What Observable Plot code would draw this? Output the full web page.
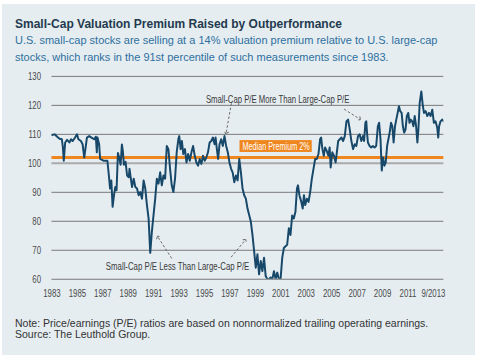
<!DOCTYPE html>
<html>
<head>
<meta charset="utf-8">
<script src="https://cdn.jsdelivr.net/npm/d3@7"></script>
<script src="https://cdn.jsdelivr.net/npm/@observablehq/plot@0.6"></script>
<style>
  html, body { margin: 0; padding: 0; background: #ffffff; }
  #panel { position: absolute; left: 2px; top: 4px; width: 473px; height: 351px; background: #e5edf1; }
  .title { position: absolute; left: 13px; top: 13px; font-family: "Liberation Sans", Arial, sans-serif; font-weight: bold; font-size: 13px; line-height: 13px; color: #233a4e; white-space: nowrap; }
  .title span { display: inline-block; transform-origin: 0 50%; }
  .subtitle { position: absolute; left: 13px; top: 28px; font-family: "Liberation Sans", Arial, sans-serif; font-size: 11px; line-height: 17px; color: #2e6f9e; white-space: nowrap; }
  .note { position: absolute; left: 13px; top: 314px; font-family: "Liberation Sans", Arial, sans-serif; font-size: 10.5px; line-height: 10.5px; color: #333333; white-space: nowrap; }
  #chart { position: absolute; left: -2px; top: 62px; }
</style>
</head>
<body>
<div id="panel">
  <div class="title"><span>Small-Cap Valuation Premium Raised by Outperformance</span></div>
  <div class="subtitle">U.S. small-cap stocks are selling at a 14% valuation premium relative to U.S. large-cap<br>stocks, which ranks in the 91st percentile of such measurements since 1983.</div>
  <div id="chart"></div>
  <div class="note">Note: Price/earnings (P/E) ratios are based on nonnormalized trailing operating earnings.<br>Source: The Leuthold Group.</div>
</div>
<script>
// Decimal years and relative P/E (small-cap / large-cap, x100)
const years = [
  1983.00,1983.21,1983.41,1983.60,1983.78,1983.86,1983.93,1984.04,1984.19,1984.37,1984.50,1984.63,1984.82,1984.97,
  1985.08,1985.28,1985.41,1985.54,1985.75,1985.93,1986.11,1986.32,1986.45,1986.53,1986.58,1986.71,1986.79,
  1987.05,1987.36,1987.49,1987.57,1987.67,1987.77,1987.88,1987.98,1988.08,1988.19,1988.29,1988.40,1988.50,1988.58,
  1988.66,1988.79,1988.91,1989.04,1989.10,1989.17,1989.30,1989.43,1989.56,1989.69,1989.82,1989.95,
  1990.08,1990.21,1990.34,1990.47,1990.60,1990.73,1990.86,1990.99,1991.12,1991.25,1991.38,1991.51,1991.64,1991.77,1991.90,
  1992.03,1992.16,1992.29,1992.42,1992.55,1992.68,1992.81,1992.94,1993.01,1993.12,1993.22,1993.33,1993.46,1993.58,1993.71,1993.84,1993.97,
  1994.10,1994.23,1994.36,1994.49,1994.62,1994.75,1994.88,1995.01,1995.14,1995.27,1995.40,1995.53,1995.66,1995.79,1995.87,1995.97,
  1996.07,1996.18,1996.31,1996.44,1996.57,1996.70,1996.83,1996.96,1997.09,1997.21,1997.34,1997.47,1997.60,1997.73,1997.86,1997.99,
  1998.12,1998.25,1998.38,1998.51,1998.64,1998.77,1998.90,1999.03,1999.16,1999.29,1999.42,1999.55,1999.68,1999.81,1999.94,
  2000.07,2000.20,2000.33,2000.46,2000.59,2000.72,2000.85,2000.98,2001.11,2001.24,2001.37,2001.50,2001.63,2001.76,2001.89,
  2002.02,2002.15,2002.27,2002.35,2002.46,2002.61,2002.72,2002.82,2002.92,2003.05,2003.18,2003.31,2003.44,2003.57,2003.70,2003.83,2003.96,
  2004.09,2004.17,2004.27,2004.38,2004.48,2004.61,2004.74,2004.84,2004.92,2005.05,2005.18,2005.31,2005.39,2005.51,2005.64,2005.77,2005.90,
  2006.03,2006.16,2006.29,2006.42,2006.55,2006.68,2006.81,2006.94,2007.07,2007.20,2007.33,2007.46,2007.55,2007.65,2007.72,2007.78,2007.85,2007.98,
  2008.11,2008.24,2008.37,2008.50,2008.63,2008.73,2008.84,2008.94,2009.04,2009.15,2009.25,2009.36,2009.46,2009.56,2009.67,2009.77,2009.87,2009.98,
  2010.08,2010.19,2010.29,2010.39,2010.50,2010.60,2010.70,2010.81,2010.91,2011.02,2011.12,2011.22,2011.33,2011.43,2011.53,2011.64,2011.74,2011.82,2011.92,
  2012.05,2012.16,2012.26,2012.39,2012.52,2012.65,2012.78,2012.91,2013.04,2013.17,2013.30,2013.38,2013.45,2013.56,2013.69,2013.82
];
const values = [
  109.8,110.0,109.2,108.5,108.3,105.5,100.9,107.2,108.1,107.2,108.3,107.7,108.9,110.0,
  108.3,107.7,106.6,102.0,108.9,109.4,108.9,108.3,109.2,103.8,108.9,106.6,101.5,
  100.9,100.9,95.2,91.3,94.1,85.0,89.0,91.8,90.7,103.6,102.0,99.5,106.5,104.0,
  99.5,100.5,95.8,95.2,98.1,95.8,91.8,94.7,91.8,91.3,89.0,90.1,
  87.8,94.1,91.3,85.6,81.0,69.1,76.5,82.2,87.8,94.7,93.0,96.9,92.4,95.8,94.7,
  106.0,104.9,98.1,92.4,90.1,94.7,103.8,108.3,109.4,104.9,107.7,103.2,104.9,100.3,103.2,100.9,103.8,
  106.0,102.6,100.3,99.2,101.5,99.8,102.6,100.9,102.0,103.8,107.2,107.7,108.9,106.6,108.9,104.9,
  101.5,106.6,108.3,106.0,109.4,106.0,103.8,100.3,98.1,96.9,93.5,95.8,94.1,101.5,96.9,91.3,
  89.0,87.8,84.4,82.2,79.9,75.3,69.7,64.0,68.6,61.7,66.3,62.8,67.4,61.1,60.0,
  60.0,60.6,60.0,62.8,60.0,62.3,60.0,60.0,67.4,70.8,71.4,71.9,77.6,75.3,82.0,
  81.0,83.3,91.3,92.4,89.0,86.7,84.4,89.0,85.6,87.8,86.7,90.1,94.7,98.1,101.5,101.5,103.2,
  108.3,108.9,104.9,102.6,105.5,104.3,102.6,105.5,98.6,103.8,102.6,100.3,103.2,107.7,108.3,108.9,107.7,
  109.4,114.5,115.1,111.7,107.7,104.9,106.6,106.0,109.4,110.0,107.7,109.4,107.7,114.0,114.5,110.6,107.2,106.0,
  105.5,106.0,105.5,106.0,112.8,114.0,108.3,97.5,102.0,99.2,100.3,106.0,108.3,110.6,114.0,112.8,107.2,112.8,
  115.1,117.4,119.7,118.0,117.4,112.8,110.6,111.7,116.3,117.4,114.0,115.1,114.5,112.8,116.3,112.8,107.2,111.7,120.8,
  124.8,120.2,117.4,118.0,116.3,117.4,116.3,118.5,114.0,114.5,112.3,108.9,112.8,114.5,115.1,114.5
];
const yTicks = [60, 70, 80, 90, 100, 110, 120, 130];
const xTicks = [1983, 1985, 1987, 1989, 1991, 1993, 1995, 1997, 1999, 2001, 2003, 2005, 2007, 2009, 2011, 2013];
const xTickLabels = ["1983","1985","1987","1989","1991","1993","1995","1997","1999","2001","2003","2005","2007","2009","2011","9/2013"];
const medianPremium = 102;
const medianLabel = "Median Premium 2%";
const annotationTexts = ["Small-Cap P/E More Than Large-Cap P/E", "Small-Cap P/E Less Than Large-Cap P/E"];
// annotation anchors in data space (year, value)
const annotationX = [2000.75, 1992.88];
const annotationY = [122.1, 64.4];
const arrowX1 = [1997.11, 2005.98, 1992.42, 1997.09];
const arrowY1 = [120.7, 118.7, 67.2, 67.6];
const arrowX2 = [1996.70, 2007.20, 1991.33, 1998.20];
const arrowY2 = [110.5, 115.3, 74.6, 73.5];

const data = years.map((t, i) => ({t, v: values[i]}));
const arrows = arrowX1.map((x, i) => ({x1: x, y1: arrowY1[i], x2: arrowX2[i], y2: arrowY2[i]}));
const notes = annotationTexts.map((text, i) => ({text, x: annotationX[i], y: annotationY[i]}));

const font = '"Liberation Sans", Arial, sans-serif';
const chart = Plot.plot({
  width: 480,
  height: 240,
  marginLeft: 52,
  marginRight: 32,
  marginTop: 10,
  marginBottom: 25,
  style: {background: "transparent", fontFamily: font, fontSize: "11px", color: "#4a4a4a"},
  x: {domain: [1983, 2013.82], label: null},
  y: {domain: [60, 130], label: null},
  marks: [
    Plot.ruleY(yTicks.filter(d => d !== 100), {stroke: "#777", strokeWidth: 1}),
    Plot.ruleY([100], {stroke: "#aaa", strokeWidth: 2}),
    Plot.rect([{}], {x1: 1994.75, x2: 2006.55, y1: 120.4, y2: 124, fill: "#e5edf1"}),
    Plot.ruleY([medianPremium], {stroke: "#f0861e", strokeWidth: 3}),
    Plot.line(data, {x: "t", y: "v", stroke: "#17486a", strokeWidth: 2, clip: true}),
    Plot.link(arrows, {x1: "x1", y1: "y1", x2: "x2", y2: "y2", stroke: "#666", strokeWidth: 1, strokeDasharray: "2.5,2", markerEnd: "arrow"}),
    Plot.text(notes, {x: "x", y: "y", text: "text", fill: "#3a3a3a", fontSize: 11}),
    Plot.rect([{}], {x1: 1997.79, x2: 2003.47, y1: 103.75, y2: 107.85, fill: "#f0861e"}),
    Plot.text([medianLabel], {x: 2000.63, y: 105.8, text: d => d, fill: "#fff", fontSize: 11}),
    Plot.axisX({ticks: xTicks, tickSize: 0, tickPadding: 10, tickFormat: (d) => xTickLabels[xTicks.indexOf(d)], fill: "#4a4a4a"}),
    Plot.axisY({ticks: yTicks, tickSize: 0, tickPadding: 11, fill: "#4a4a4a"})
  ]
});
document.getElementById("chart").appendChild(chart);

// condense chart text to match the narrow face of the original
chart.querySelectorAll("text").forEach(el => {
  const txt = el.textContent;
  const w = el.getComputedTextLength();
  let target = w * 0.72;
  if (annotationTexts.includes(txt)) target = 145;
  else if (txt === medianLabel) target = 68;
  el.setAttribute("textLength", target);
  el.setAttribute("lengthAdjust", "spacingAndGlyphs");
});
// condense the title to the original width
const titleSpan = document.querySelector(".title span");
const tw = titleSpan.getBoundingClientRect().width;
titleSpan.style.transform = `scaleX(${327 / tw})`;
</script>
</body>
</html>
